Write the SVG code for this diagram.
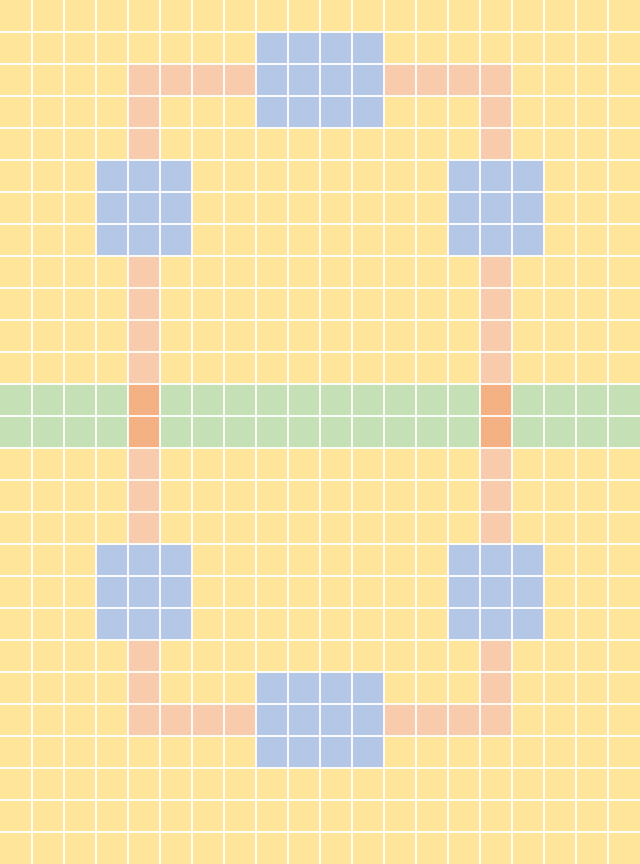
<svg xmlns="http://www.w3.org/2000/svg" width="640" height="864" viewBox="0 0 640 864">
<style>
.y{fill:#FFE599}.p{fill:#F8CBAD}.b{fill:#B4C7E7}.g{fill:#C5E0B4}.o{fill:#F4B183}
.grid{stroke:#FFFFFF;stroke-width:2;stroke-opacity:0.9;fill:none}
</style>
<rect class="y" x="0" y="0" width="640" height="864"/>
<g id="band"><rect class="g" x="0" y="384" width="640" height="64"/></g>
<g id="paths">
<rect class="p" x="128" y="64" width="128" height="32"/>
<rect class="p" x="384" y="64" width="128" height="32"/>
<rect class="p" x="128" y="64" width="32" height="96"/>
<rect class="p" x="480" y="64" width="32" height="96"/>
<rect class="p" x="128" y="256" width="32" height="128"/>
<rect class="p" x="480" y="256" width="32" height="128"/>
<rect class="p" x="128" y="448" width="32" height="96"/>
<rect class="p" x="480" y="448" width="32" height="96"/>
<rect class="p" x="128" y="640" width="32" height="96"/>
<rect class="p" x="480" y="640" width="32" height="96"/>
<rect class="p" x="128" y="704" width="128" height="32"/>
<rect class="p" x="384" y="704" width="128" height="32"/>
<rect class="o" x="128" y="384" width="32" height="64"/>
<rect class="o" x="480" y="384" width="32" height="64"/>
</g>
<g id="blocks">
<rect id="top" class="b" x="256" y="32" width="128" height="96"/>
<rect id="upper-left" class="b" x="96" y="160" width="96" height="96"/>
<rect id="upper-right" class="b" x="448" y="160" width="96" height="96"/>
<rect id="lower-left" class="b" x="96" y="544" width="96" height="96"/>
<rect id="lower-right" class="b" x="448" y="544" width="96" height="96"/>
<rect id="bottom" class="b" x="256" y="672" width="128" height="96"/>
</g>
<path class="grid" d="M32 0V864M64 0V864M96 0V864M128 0V864M160 0V864M192 0V864M224 0V864M256 0V864M288 0V864M320 0V864M352 0V864M384 0V864M416 0V864M448 0V864M480 0V864M512 0V864M544 0V864M576 0V864M608 0V864M0 32H640M0 64H640M0 96H640M0 128H640M0 160H640M0 192H640M0 224H640M0 256H640M0 288H640M0 320H640M0 352H640M0 384H640M0 416H640M0 448H640M0 480H640M0 512H640M0 544H640M0 576H640M0 608H640M0 640H640M0 672H640M0 704H640M0 736H640M0 768H640M0 800H640M0 832H640"/>
</svg>
